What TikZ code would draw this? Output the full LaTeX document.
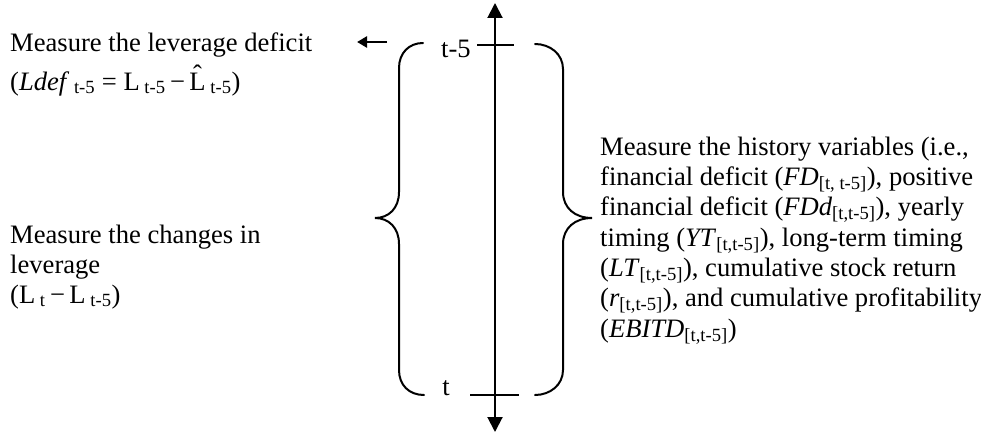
\documentclass[tikz,border=0pt]{standalone}
\usepackage{fontspec}
\setmainfont{Liberation Serif}
\usetikzlibrary{arrows.meta}
\newcommand{\hatL}{\ooalign{L\cr\hidewidth\raisebox{0.24em}{ˆ}\hidewidth\cr}}
\begin{document}
\begin{tikzpicture}[x=1pt,y=-1pt,
  txt/.style={anchor=base west, inner sep=0pt, font=\fontsize{26.6}{30}\selectfont},
  lbl/.style={anchor=base, inner sep=0pt, font=\fontsize{26.6}{30}\selectfont},
  ln/.style={line width=2pt},
  brace/.style={line width=2pt, line cap=round},
  axisarrow/.style={line width=2pt, {Triangle[length=15pt,width=15pt]}-{Triangle[length=15pt,width=15pt]}},
  smallarrow/.style={line width=2.5pt, -{Triangle[length=10pt,width=11pt]}}
]
\useasboundingbox (0,0) rectangle (981,436);

% time axis
\coordinate (axtop) at (495,3);
\coordinate (axbot) at (495,432);
\draw[axisarrow] (axtop) -- (axbot);

% ticks
\coordinate (t5l) at (477,45);
\coordinate (t5r) at (514,45);
\draw[ln] (t5l) -- (t5r);
\coordinate (t0l) at (470,395);
\coordinate (t0r) at (519,395);
\draw[ln] (t0l) -- (t0r);

\node[lbl] (lt5) at (456,57) {t-5};
\node[lbl] (lt0) at (446,395) {t};

% small arrow
\coordinate (sa1) at (387,42);
\coordinate (sa2) at (357,42);
\draw[smallarrow] (sa1) -- (sa2);

% left brace
\draw[brace] (423,43) .. controls (409,43) and (399,53) .. (399,68)
  -- (399,192) .. controls (399,208) and (389,218) .. (375,218)
  .. controls (389,218) and (399,228) .. (399,244)
  -- (399,370) .. controls (399,385) and (409,395) .. (424,395);

% right brace
\draw[brace] (535,44) .. controls (550,44) and (563,54) .. (563,69)
  -- (563,192) .. controls (563,208) and (575,218) .. (592,218)
  .. controls (575,218) and (563,228) .. (563,244)
  -- (563,370) .. controls (563,385) and (550,395) .. (535,395);

% left texts
\node[txt] (ld1) at (10,52) {Measure the leverage deficit};
\node[txt] (ld2) at (10,90) {(\textit{Ldef}\textsubscript{\ t-5} = L\textsubscript{\ t-5}\,−\,\hatL\textsubscript{\ t-5})};

\node[txt] (lc1) at (10,243) {Measure the changes in};
\node[txt] (lc2) at (10,273) {leverage};
\node[txt] (lc3) at (10,303) {(L\textsubscript{\ t}\,−\,L\textsubscript{\ t-5})};

% right texts
\node[txt] (r1) at (600,155) {Measure the history variables (i.e.,};
\node[txt] (r2) at (600,185.3) {financial deficit (\textit{FD}\textsubscript{[t, t-5]}), positive};
\node[txt] (r3) at (600,215.6) {financial deficit (\textit{FDd}\textsubscript{[t,t-5]}), yearly};
\node[txt] (r4) at (600,246) {timing (\textit{YT}\textsubscript{[t,t-5]}), long-term timing};
\node[txt] (r5) at (600,276.3) {(\textit{LT}\textsubscript{[t,t-5]}), cumulative stock return};
\node[txt] (r6) at (600,306.6) {(\textit{r}\textsubscript{[t,t-5]}), and cumulative profitability};
\node[txt] (r7) at (600,337) {(\textit{EBITD}\textsubscript{[t,t-5]})};
\end{tikzpicture}
\end{document}
